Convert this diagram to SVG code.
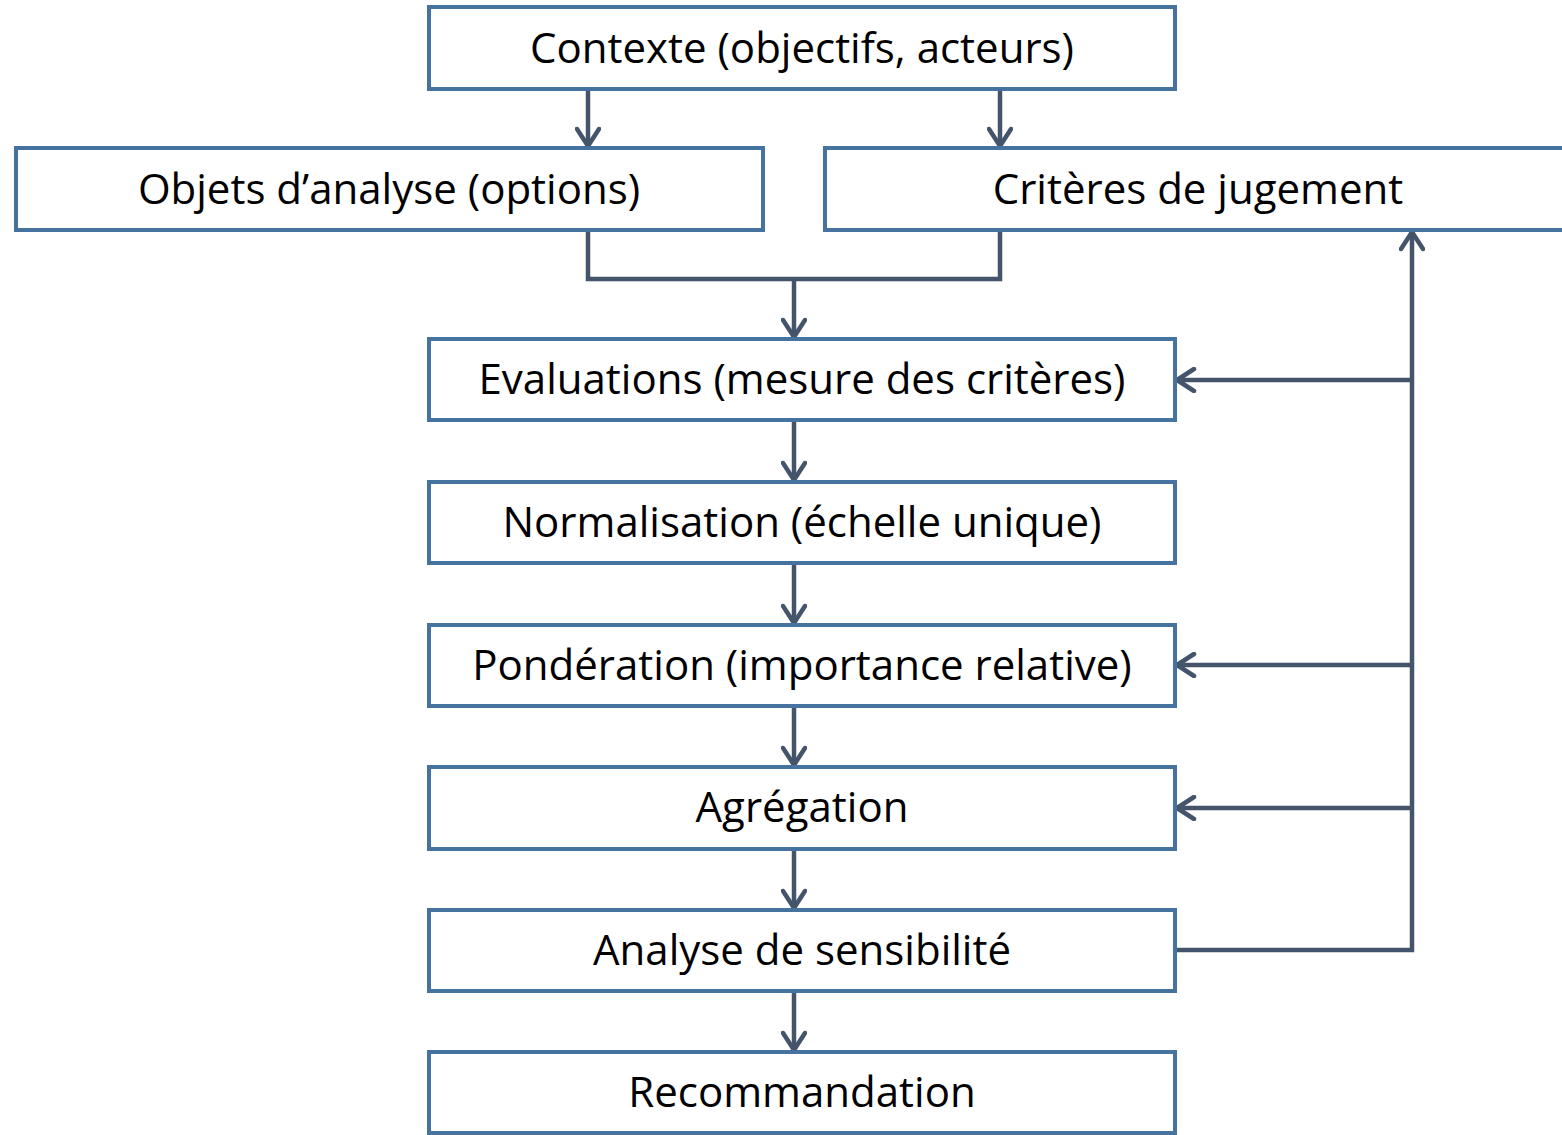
<svg xmlns="http://www.w3.org/2000/svg" width="1562" height="1135" viewBox="0 0 1562 1135">
<defs>
<style>
.box{fill:#fff;stroke:#4672A0;stroke-width:4}
.lbl{font-family:"Open Sans","Noto Sans",sans-serif;font-size:42px;fill:#000;text-anchor:middle}
.con{fill:none;stroke:#44546A;stroke-width:4.5}
</style>
<marker id="ah" viewBox="0 0 22 26" refX="20" refY="13" markerWidth="22" markerHeight="26" markerUnits="userSpaceOnUse" orient="auto">
<path d="M3,2 L20,13 L3,24" fill="none" stroke="#44546A" stroke-width="4.5" stroke-linecap="round" stroke-linejoin="round"/>
</marker>
</defs>
<rect width="1562" height="1135" fill="#fff"/>
<g id="connectors">
<path class="con" d="M588,89 V146" marker-end="url(#ah)"/>
<path class="con" d="M1000,89 V146" marker-end="url(#ah)"/>
<path class="con" d="M588,230 V279 H1000 V230"/>
<path class="con" d="M794,279 V337" marker-end="url(#ah)"/>
<path class="con" d="M794,420 V480" marker-end="url(#ah)"/>
<path class="con" d="M794,563 V623" marker-end="url(#ah)"/>
<path class="con" d="M794,706 V765" marker-end="url(#ah)"/>
<path class="con" d="M794,849 V908" marker-end="url(#ah)"/>
<path class="con" d="M794,991 V1050" marker-end="url(#ah)"/>
<path class="con" d="M1175,950 H1412 V232" marker-end="url(#ah)"/>
<path class="con" d="M1412,380 H1177" marker-end="url(#ah)"/>
<path class="con" d="M1412,665 H1177" marker-end="url(#ah)"/>
<path class="con" d="M1412,808 H1177" marker-end="url(#ah)"/>
</g>
<g id="n-contexte"><rect class="box" x="429" y="7" width="746" height="82"/><text class="lbl" x="802" y="63">Contexte (objectifs, acteurs)</text></g>
<g id="n-objets"><rect class="box" x="16" y="148" width="747" height="82"/><text class="lbl" x="389" y="204">Objets d’analyse (options)</text></g>
<g id="n-criteres"><rect class="box" x="825" y="148" width="746" height="82"/><text class="lbl" x="1198" y="204">Critères de jugement</text></g>
<g id="n-evaluations"><rect class="box" x="429" y="339" width="746" height="81"/><text class="lbl" x="802" y="394">Evaluations (mesure des critères)</text></g>
<g id="n-normalisation"><rect class="box" x="429" y="482" width="746" height="81"/><text class="lbl" x="802" y="537">Normalisation (échelle unique)</text></g>
<g id="n-ponderation"><rect class="box" x="429" y="625" width="746" height="81"/><text class="lbl" x="802" y="680">Pondération (importance relative)</text></g>
<g id="n-agregation"><rect class="box" x="429" y="767" width="746" height="82"/><text class="lbl" x="802" y="822">Agrégation</text></g>
<g id="n-analyse"><rect class="box" x="429" y="910" width="746" height="81"/><text class="lbl" x="802" y="965">Analyse de sensibilité</text></g>
<g id="n-recommandation"><rect class="box" x="429" y="1052" width="746" height="81"/><text class="lbl" x="802" y="1107">Recommandation</text></g>
</svg>
